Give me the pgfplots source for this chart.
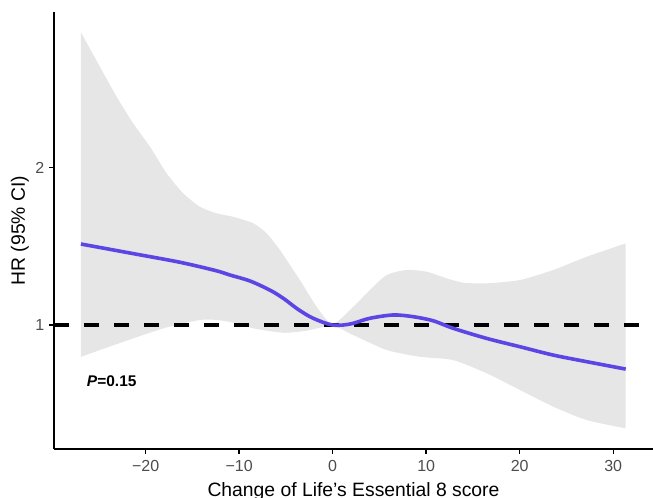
\documentclass[border=0pt]{standalone}
\usepackage{pgfplots}
\pgfplotsset{compat=1.18}
\usepgfplotslibrary{fillbetween}
\usepackage{fontspec}
\setmainfont{Liberation Sans}
\definecolor{band}{HTML}{E6E6E6}
\definecolor{hrline}{HTML}{5B45E4}
\definecolor{ticklab}{HTML}{4D4D4D}
\begin{document}
\begin{tikzpicture}
\begin{axis}[
  at={(0,0)}, anchor=south west,
  scale only axis,
  width=449.25pt, height=327.75pt,
  xmin=-29.8, xmax=34.26,
  ymin=0.212, ymax=2.99,
  axis x line=bottom, axis y line=left,
  axis line style={-, line width=1.1pt, black},
  xtick={-20,-10,0,10,20,30},
  xticklabels={−20,−10,0,10,20,30},
  ytick={1,2},
  yticklabels={1,2},
  tick align=outside,
  major tick length=3.75pt,
  every tick/.style={black, line width=1pt},
  tick label style={font=\fontsize{12}{14}\selectfont, text=ticklab},
  xticklabel style={yshift=-1pt},
  xlabel={Change of Life’s Essential 8 score},
  ylabel={HR (95\% CI)},
  label style={font=\fontsize{14.5}{17}\selectfont},
  xlabel style={at={(axis description cs:0.5,-0.1092)}, anchor=base},
  ylabel style={at={(axis description cs:-0.0568,0.5)}, anchor=center},
  clip=false,
]
% confidence band
\addplot[name path=up, draw=none, smooth, tension=0.4] coordinates {
(-26.92,2.861) (-24.89,2.642) (-23.10,2.451) (-21.33,2.282) (-19.54,2.134)
(-17.75,1.964) (-15.98,1.837) (-14.19,1.752) (-12.41,1.710) (-10.63,1.688)
(-8.49,1.647) (-7.06,1.583) (-5.64,1.477) (-3.50,1.286) (-1.71,1.116)
(0.00,1.005) (2.20,1.116) (3.99,1.223) (5.78,1.318) (7.91,1.350)
(10.05,1.339) (12.19,1.297) (13.97,1.269) (16.47,1.265) (20.03,1.286)
(23.59,1.350) (27.17,1.434) (31.34,1.519)
};
\addplot[name path=lo, draw=none, smooth, tension=0.4] coordinates {
(-26.92,0.798) (-24.89,0.841) (-21.33,0.915) (-17.75,0.985) (-14.19,1.032)
(-12.41,1.032) (-10.63,1.015) (-8.49,0.979) (-5.28,0.951) (-2.78,0.964)
(0.00,0.995) (2.20,0.936) (5.78,0.841) (9.34,0.798) (12.90,0.777)
(16.47,0.693) (20.03,0.587) (23.59,0.481) (27.17,0.396) (31.34,0.343)
};
\addplot[fill=band, draw=none] fill between[of=up and lo];
% reference line
\addplot[black, line width=3pt, dash pattern=on 11.25pt off 11.25pt] coordinates {(-29.8,1) (34.26,1)};
% HR curve
\addplot[hrline, line width=2.7pt, smooth, tension=0.5] coordinates {
(-26.92,1.515) (-21.33,1.454) (-16.33,1.399) (-12.5,1.346) (-10.98,1.318)
(-8.84,1.280) (-6.71,1.222) (-5.28,1.170) (-3.85,1.106) (-2.43,1.053)
(-1.01,1.017) (0.00,1.000) (1.13,1.000)
(2.20,1.011) (3.99,1.043) (6.48,1.064) (8.62,1.053) (10.76,1.027)
(12.90,0.979) (16.47,0.915) (20.03,0.862) (23.59,0.809) (27.17,0.767)
(31.34,0.720)
};
\node[anchor=west, inner sep=0pt, font=\fontsize{11.6}{13}\selectfont\bfseries] at (axis cs:-26.3,0.644) {\textit{P}=0.15};
\end{axis}
\pgfresetboundingbox
\path[use as bounding box] (-40.5pt,-36.75pt) rectangle (449.25pt,336.75pt);
\end{tikzpicture}
\end{document}
